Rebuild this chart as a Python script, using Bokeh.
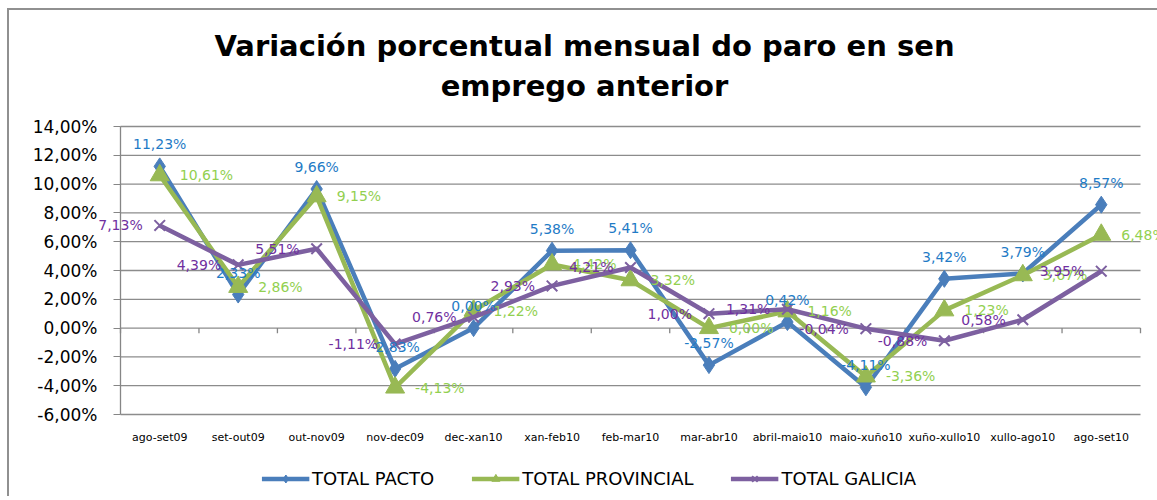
from bokeh.plotting import figure
from bokeh.layouts import column
from bokeh.models import (ColumnDataSource, LabelSet, Label, Legend, LegendItem,
                          FixedTicker)
from bokeh.core.properties import value
from bokeh.embed import file_html
from bokeh.resources import INLINE

categories = ["ago-set09", "set-out09", "out-nov09", "nov-dec09", "dec-xan10",
              "xan-feb10", "feb-mar10", "mar-abr10", "abril-maio10",
              "maio-xuño10", "xuño-xullo10", "xullo-ago10", "ago-set10"]
pacto = [11.23, 2.33, 9.66, -2.83, 0.00, 5.38, 5.41, -2.57, 0.42, -4.11, 3.42, 3.79, 8.57]
provincial = [10.61, 2.86, 9.15, -4.13, 1.22, 4.42, 3.32, 0.00, 1.16, -3.36, 1.23, 3.67, 6.48]
galicia = [7.13, 4.39, 5.51, -1.11, 0.76, 2.93, 4.21, 1.00, 1.31, -0.04, -0.88, 0.58, 3.95]
series_names = ["TOTAL PACTO", "TOTAL PROVINCIAL", "TOTAL GALICIA"]
y_ticks = [-6, -4, -2, 0, 2, 4, 6, 8, 10, 12, 14]
title_lines = ["Variación porcentual mensual do paro en sen", "emprego anterior"]


def pct(v):
    return f"{v:.2f}".replace(".", ",") + "%"


N = len(categories)
xs = [i + 0.5 for i in range(N)]
FONT = "DejaVu Sans"
Y_MIN, Y_MAX = min(y_ticks), max(y_ticks)

# layout geometry (pixels): plot area 1020 x 288 px, with room left for the
# value axis labels, right for overhanging labels and above for the title
PLOT_W, PLOT_H = 1020, 288
LEFT_PAD, RIGHT_PAD = 100, 17
TOP_PAD, BOTTOM_PAD = 116, 10
px_per_cat = PLOT_W / N
px_per_pct = PLOT_H / (Y_MAX - Y_MIN)
x_start = -LEFT_PAD / px_per_cat
x_end = N + RIGHT_PAD / px_per_cat
y_start = Y_MIN - BOTTOM_PAD / px_per_pct
y_end = Y_MAX + TOP_PAD / px_per_pct
FRAME_W = LEFT_PAD + PLOT_W + RIGHT_PAD
FRAME_H = TOP_PAD + PLOT_H + BOTTOM_PAD

p = figure(width=1148, height=FRAME_H + 36, x_range=(x_start, x_end),
           y_range=(y_start, y_end), output_backend="svg", toolbar_location=None,
           min_border_left=11, min_border_right=0, min_border_top=0,
           min_border_bottom=36)
p.outline_line_color = None
p.background_fill_color = "white"
p.border_fill_color = "white"

# two-line title, centred over the chart (screen units from frame bottom-left)
title_center = LEFT_PAD + PLOT_W / 2 - 46
for line, base in zip(title_lines, [FRAME_H - 35, FRAME_H - 75]):
    p.add_layout(Label(x=title_center, y=base, x_units="screen", y_units="screen",
                       text=line, text_align="center", text_baseline="alphabetic",
                       text_font=FONT, text_font_style="bold",
                       text_font_size="29px", text_color="black"))

# horizontal gridlines across the category area only
p.grid.visible = False
p.segment(x0=[0] * len(y_ticks), y0=y_ticks, x1=[N] * len(y_ticks), y1=y_ticks,
          line_color="#8c8c8c", line_width=1.3)

# y axis fixed at the start of the category area
p.yaxis.fixed_location = 0
p.yaxis.bounds = (Y_MIN, Y_MAX)
p.yaxis.ticker = FixedTicker(ticks=y_ticks)
p.yaxis.major_label_overrides = {t: pct(t) for t in y_ticks}
p.yaxis.major_label_text_font = FONT
p.yaxis.major_label_text_font_size = "17px"
p.yaxis.major_label_text_color = "black"
p.yaxis.axis_line_color = "#868686"
p.yaxis.axis_line_width = 1.3
p.yaxis.major_tick_line_color = "#868686"
p.yaxis.major_tick_out = 7
p.yaxis.major_tick_in = 0
p.yaxis.minor_tick_line_color = None
p.yaxis.major_label_standoff = 16

# x axis (labels only, at bottom)
p.xaxis.ticker = FixedTicker(ticks=xs)
p.xaxis.major_label_overrides = {x: c for x, c in zip(xs, categories)}
p.xaxis.major_label_text_font = FONT
p.xaxis.major_label_text_font_size = "11px"
p.xaxis.major_label_text_color = "black"
p.xaxis.axis_line_color = None
p.xaxis.major_tick_line_color = None
p.xaxis.minor_tick_line_color = None
p.xaxis.major_label_standoff = 0

# category boundary ticks on the zero line
bounds = list(range(N + 1))
p.segment(x0=bounds, y0=[0] * len(bounds), x1=bounds, y1=[-0.35] * len(bounds),
          line_color="#868686", line_width=1.3)

line_colors = ["#4A7EBB", "#98B954", "#7D60A0"]
label_colors = ["#1F7BC6", "#92D050", "#7030A0"]
series = [pacto, provincial, galicia]
markers = ["diamond", "triangle", "x"]
msizes = [17, 19, 15]

# legend-only figure (same series, drawn out of its view, for the legend keys)
lg = figure(width=1148, height=36, x_range=(1000, 1001), y_range=(1000, 1001),
            output_backend="svg", toolbar_location=None, min_border=0)
lg.axis.visible = False
lg.grid.visible = False
lg.outline_line_color = None

items = []
for name, vals, lc, mk, ms in zip(series_names, series, line_colors, markers, msizes):
    src = ColumnDataSource(dict(x=xs, y=vals))
    for fig in (p, lg):
        ln = fig.line("x", "y", source=src, line_color=lc, line_width=4.5)
        if mk == "x":
            sc = fig.scatter("x", "y", source=src, marker=mk, size=ms, line_color=lc,
                             line_width=2)
        else:
            sc = fig.scatter("x", "y", source=src, marker=mk, size=ms, fill_color=lc,
                             line_color=lc)
    items.append(LegendItem(label=name, renderers=[ln, sc]))

for vals, tc, k in zip(series, label_colors, range(3)):
    src = ColumnDataSource(dict(x=xs, y=vals, lab=[pct(v) for v in vals]))
    if k == 0:
        kw = dict(x_offset=0, y_offset=22, text_align="center", text_baseline="middle")
    elif k == 1:
        kw = dict(x_offset=20, y_offset=0, text_align="left", text_baseline="middle")
    else:
        kw = dict(x_offset=-17, y_offset=0, text_align="right", text_baseline="middle")
    ls = LabelSet(x="x", y="y", text="lab", source=src, text_color=tc,
                  text_font=value(FONT), text_font_size=value("14px"), **kw)
    p.add_layout(ls)

legend = Legend(items=items, orientation="horizontal", location="center",
                label_text_font=FONT, label_text_font_size="18px",
                label_text_color="black", glyph_width=48, glyph_height=20,
                spacing=37, label_standoff=3, border_line_color=None,
                background_fill_alpha=0, padding=0, margin=0)
lg.add_layout(legend, "center")

layout = column(p, lg, margin=(8, 0, 0, 7),
                styles={"border-left": "2px solid #909090",
                        "border-top": "2px solid #909090"})

open("out.html", "w").write(file_html(layout, INLINE))
